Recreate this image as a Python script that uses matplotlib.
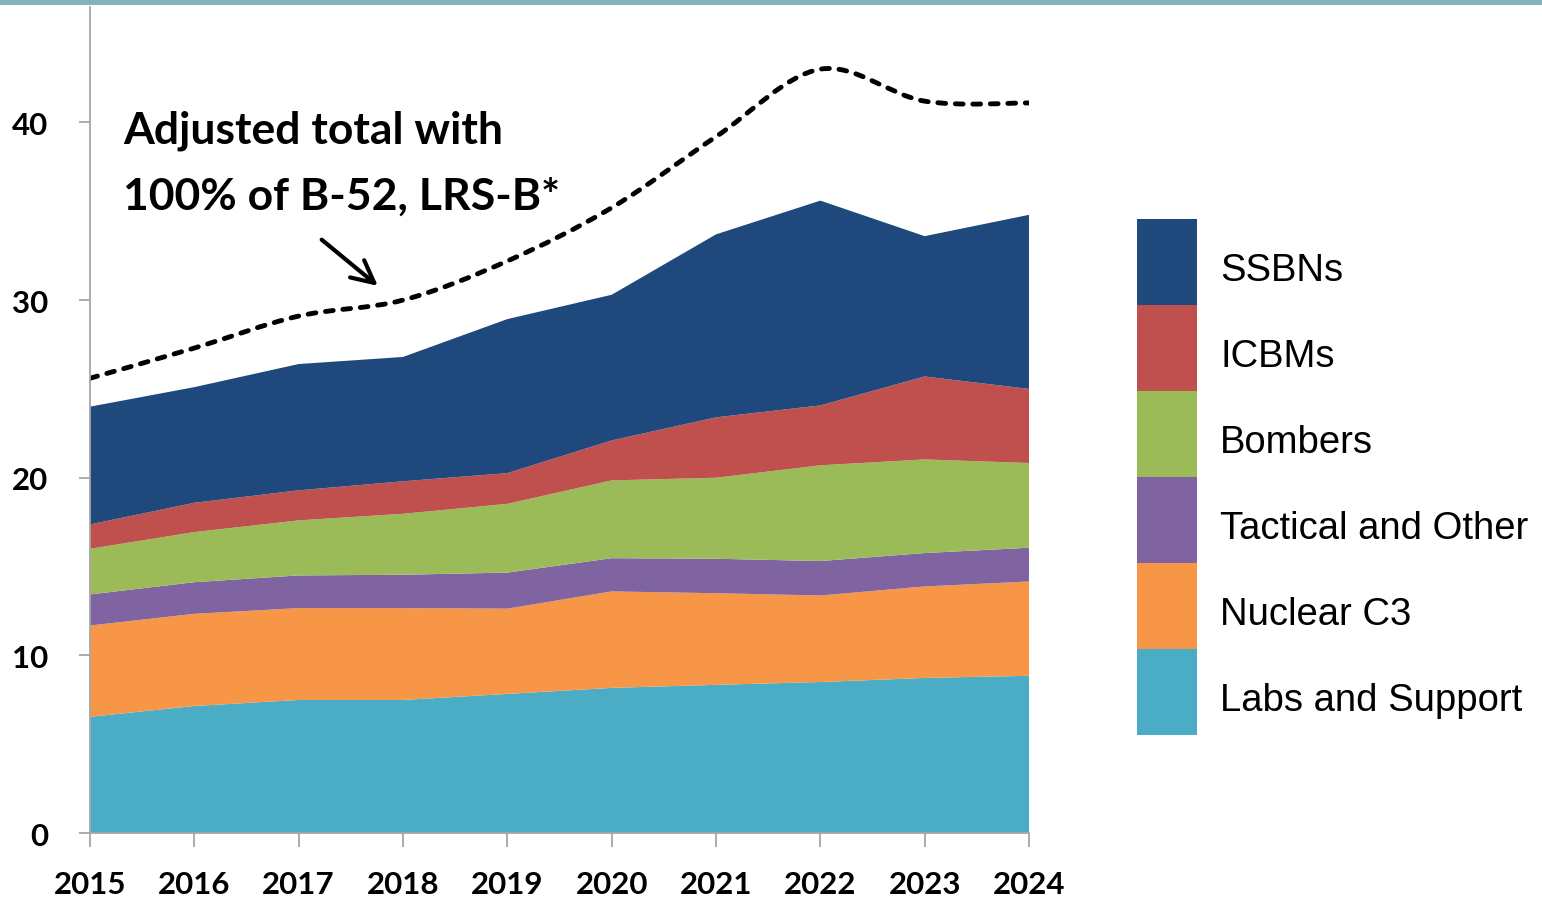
import numpy as np
import matplotlib
matplotlib.use("Agg")
from matplotlib import pyplot as plt
from matplotlib.patches import PathPatch, Rectangle
from matplotlib.path import Path

# Data (billions of dollars), bottom layer first
years = [2015, 2016, 2017, 2018, 2019, 2020, 2021, 2022, 2023, 2024]
labs = [6.54, 7.15, 7.49, 7.49, 7.83, 8.17, 8.34, 8.50, 8.73, 8.85]
c3 = [5.14, 5.19, 5.17, 5.17, 4.80, 5.43, 5.16, 4.87, 5.15, 5.31]
tactical = [1.75, 1.78, 1.84, 1.88, 2.03, 1.87, 1.94, 1.94, 1.88, 1.90]
bombers = [2.57, 2.82, 3.10, 3.43, 3.87, 4.38, 4.56, 5.39, 5.27, 4.77]
icbms = [1.37, 1.65, 1.69, 1.83, 1.73, 2.25, 3.40, 3.37, 4.67, 4.17]
ssbns = [6.63, 6.51, 7.11, 7.00, 8.67, 8.20, 10.30, 11.53, 7.90, 9.80]
adjusted = [25.6, 27.3, 29.1, 30.0, 32.2, 35.2, 39.2, 43.0, 41.2, 41.1]

labels = ["Labs and Support", "Nuclear C3", "Tactical and Other",
          "Bombers", "ICBMs", "SSBNs"]
colors = ["#4BACC6", "#F79646", "#8064A2", "#9BBB59", "#C0504D", "#1F497D"]

fig = plt.figure(figsize=(15.42, 9.03), dpi=100)
ax = fig.add_axes([90 / 1542, 1 - 834 / 903, 939 / 1542, 826 / 903])

ax.stackplot(years, labs, c3, tactical, bombers, icbms, ssbns,
             colors=colors, linewidth=0)

# smoothed dashed total (Excel style smooth line -> cubic bezier segments)
pts = np.column_stack([years, adjusted]).astype(float)
ext = np.vstack([pts[0], pts, pts[-1]])
verts = [tuple(pts[0])]
codes = [Path.MOVETO]
for i in range(len(pts) - 1):
    p0, p1, p2, p3 = ext[i], ext[i + 1], ext[i + 2], ext[i + 3]
    verts += [tuple(p1 + (p2 - p0) / 6), tuple(p2 - (p3 - p1) / 6), tuple(p2)]
    codes += [Path.CURVE4] * 3
ax.add_patch(PathPatch(Path(verts, codes), fill=False, edgecolor="black",
                       linewidth=3.5, linestyle=(0, (1.6, 2.0)),
                       capstyle="round"))

ax.text(2015.32, 40.75, "Adjusted total with\n100% of B-52, LRS-B*",
        fontfamily="Lato", fontweight="bold", fontsize=32,
        va="top", ha="left", linespacing=1.8)
ax.annotate("", xy=(2017.78, 30.7), xytext=(2017.2, 33.5),
            arrowprops=dict(arrowstyle="->", color="black", lw=3,
                            mutation_scale=40))

ax.set_xlim(2015, 2024)
ax.set_ylim(0, 46.5)
ax.set_xticks(years)
ax.set_yticks([0, 10, 20, 30, 40])
for lab in ax.get_xticklabels() + ax.get_yticklabels():
    lab.set_fontfamily("Lato")
    lab.set_fontweight("bold")
    lab.set_fontsize(22.5)
ax.tick_params(axis="x", length=10, width=1.3, color="#A6A6A6", pad=17)
ax.tick_params(axis="y", length=8, width=1.3, color="#A6A6A6", pad=22)
for side in ["top", "right"]:
    ax.spines[side].set_visible(False)
for side in ["left", "bottom"]:
    ax.spines[side].set_color("#A6A6A6")
    ax.spines[side].set_linewidth(1.3)

# legend: stacked colour blocks with labels, same order as the stack
lax = fig.add_axes([1137 / 1542, 1 - 736 / 903, 405 / 1542, 516 / 903])
lax.set_xlim(0, 405)
lax.set_ylim(0, len(labels))
lax.axis("off")
for k, (lab, col) in enumerate(zip(labels, colors)):
    lax.add_patch(Rectangle((0, k), 60, 1, facecolor=col, lw=0))
    lax.text(83, k + 0.29, lab, fontfamily="Liberation Sans", fontsize=27.5,
             va="baseline", ha="left")

# teal band at the top of the slide
fig.add_artist(Rectangle((0, 1 - 6 / 903), 1, 6 / 903,
                         transform=fig.transFigure, color="#86B1BF", lw=0))

fig.savefig("out.png", dpi=100)
